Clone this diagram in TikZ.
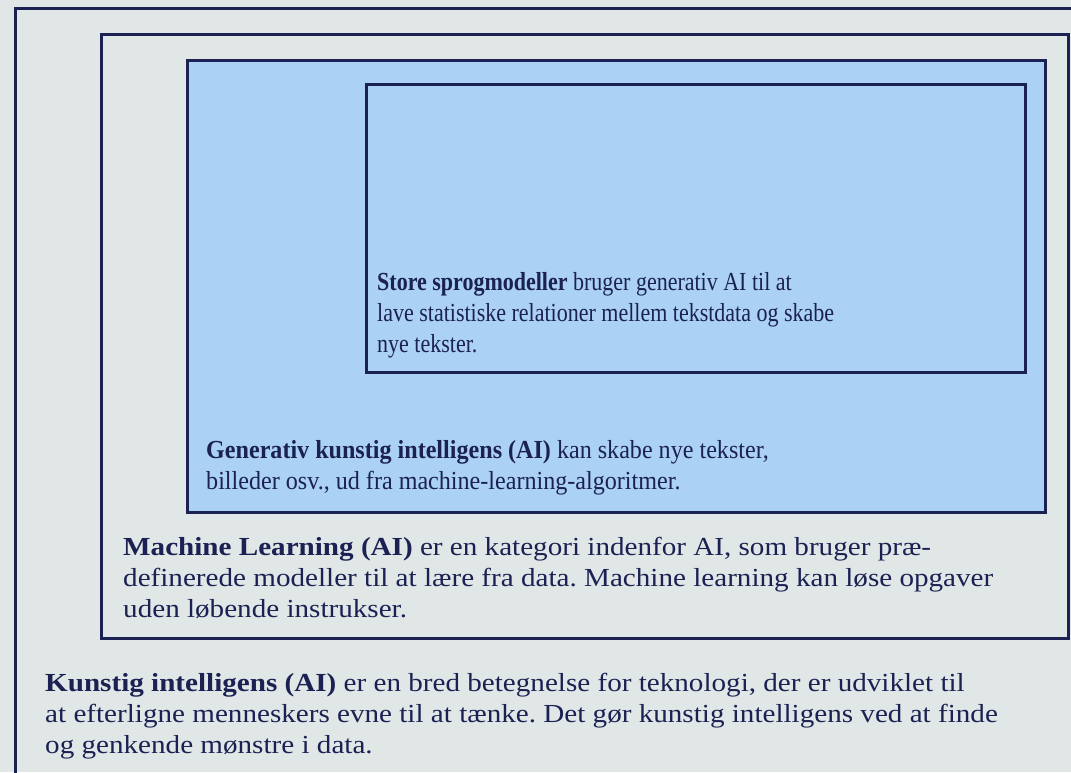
\documentclass[tikz,border=0pt]{standalone}
\usepackage{fontspec}
\setmainfont{Liberation Serif}
\newfontfamily\wideserif{Liberation Serif}[FakeStretch=1.12]
\newfontfamily\midserif{Liberation Serif}[FakeStretch=0.927]
\newfontfamily\narrowserif{Liberation Serif}[FakeStretch=0.846]
\definecolor{bgc}{HTML}{E1E6E7}
\definecolor{bluec}{HTML}{ABD1F4}
\definecolor{navy}{HTML}{1B2152}
\frenchspacing
\tikzset{
  frame/.style={draw=navy, line width=3pt},
  txt/.style={anchor=base west, inner sep=0pt, align=left, text=navy},
  small/.style={txt, font=\narrowserif\fontsize{26}{31}\selectfont},
  mid/.style={txt, font=\midserif\fontsize{26}{31}\selectfont},
  big/.style={txt, font=\wideserif\fontsize{26}{31}\selectfont}
}
\begin{document}
\begin{tikzpicture}[x=1pt,y=-1pt]
\useasboundingbox (0,0) rectangle (1071,772);
\clip (0,0) rectangle (1071,772);
\fill[bgc] (0,0) rectangle (1071,772);
\draw[frame] (15.5,790) -- (15.5,8) -- (1090,8);
\draw[frame] (101.5,34) rectangle (1068.5,638);
\draw[frame, fill=bluec] (187.5,60) rectangle (1045.7,512);
\draw[frame] (366.7,84.7) rectangle (1025,372.5);
\node[small] (llm) at (377,352) {\textbf{Store sprogmodeller} bruger generativ AI til at\\
lave statistiske relationer mellem tekstdata og skabe\\
nye tekster.};
\node[mid] (gen) at (206,489) {\textbf{Generativ kunstig intelligens (AI)} kan skabe nye tekster,\\
billeder osv., ud fra machine-learning-algoritmer.};
\node[big] (ml) at (123,617) {\textbf{Machine Learning (AI)} er en kategori indenfor AI, som bruger præ-\\
definerede modeller til at lære fra data. Machine learning kan løse opgaver\\
uden løbende instrukser.};
\node[big] (ai) at (45,753) {\textbf{Kunstig intelligens (AI)} er en bred betegnelse for teknologi, der er udviklet til\\
at efterligne menneskers evne til at tænke. Det gør kunstig intelligens ved at finde\\
og genkende mønstre i data.};
\end{tikzpicture}
\end{document}
